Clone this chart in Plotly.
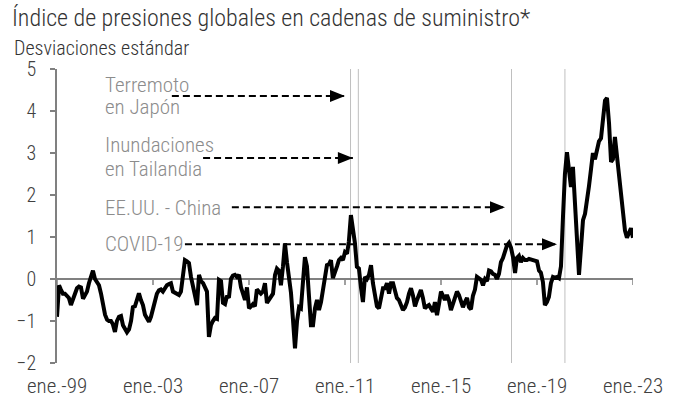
import pandas as pd
import plotly.graph_objects as go

# ---- data (monthly, Jan 1999 - Jan 2023) ----
v1999 = [-0.90, -0.15, -0.25, -0.35, -0.35, -0.40, -0.45, -0.62, -0.50, -0.35, -0.22, -0.18]
v2000 = [-0.20, -0.47, -0.38, -0.30, -0.10, 0.10, 0.20, 0.00, -0.10, -0.15, -0.35, -0.62]
v2001 = [-0.85, -0.97, -1.00, -1.00, -1.08, -1.26, -1.00, -0.90, -0.88, -1.10, -1.20, -1.27]
v2002 = [-1.20, -1.00, -0.67, -0.65, -0.50, -0.34, -0.50, -0.62, -0.85, -0.95, -1.02, -0.90]
v2003 = [-0.70, -0.50, -0.35, -0.27, -0.25, -0.30, -0.20, -0.15, -0.12, -0.10, -0.30, -0.32]
v2004 = [-0.35, -0.38, -0.30, 0.10, 0.45, 0.42, 0.38, 0.05, -0.20, -0.40, -0.62, 0.10]
v2005 = [-0.05, -0.10, -0.20, -0.30, -1.38, -1.10, -1.00, -0.93, -0.95, -0.02, -0.05, -0.57]
v2006 = [-0.60, -0.40, -0.45, 0.00, 0.08, 0.10, 0.05, 0.10, -0.20, -0.35, -0.50, -0.20]
v2007 = [-0.70, -0.65, -0.60, -0.65, -0.25, -0.30, -0.35, -0.30, -0.10, -0.57, -0.50, -0.42]
v2008 = [-0.35, 0.10, 0.25, 0.20, -0.15, 0.30, 0.85, 0.40, 0.00, -0.33, -0.98, -1.65]
v2009 = [-1.00, -0.67, -0.70, 0.00, 0.52, 0.30, -0.62, -1.10, -1.10, -0.70, -0.50, -0.74]
v2010 = [-0.55, -0.20, 0.10, 0.33, 0.35, 0.45, 0.02, 0.20, 0.30, 0.45, 0.50, 0.45]
v2011 = [0.64, 0.60, 0.90, 1.52, 1.20, 0.86, 0.29, 0.25, -0.20, -0.55, 0.05, 0.00]
v2012 = [0.10, 0.33, -0.10, -0.40, -0.65, -0.70, -0.50, -0.22, -0.22, -0.10, -0.35, -0.10]
v2013 = [-0.10, -0.25, -0.45, -0.50, -0.60, -0.74, -0.68, -0.55, -0.35, -0.22, -0.40, -0.65]
v2014 = [-0.50, -0.35, -0.26, -0.45, -0.70, -0.65, -0.62, -0.70, -0.78, -0.55, -0.86, -0.60]
v2015 = [-0.30, -0.40, -0.50, -0.38, -0.50, -0.74, -0.60, -0.45, -0.30, -0.38, -0.50, -0.67]
v2016 = [-0.55, -0.45, -0.67, -0.72, -0.40, -0.25, 0.05, 0.00, -0.02, -0.15, 0.00, -0.05]
v2017 = [0.20, 0.18, 0.12, 0.10, 0.00, 0.12, 0.40, 0.50, 0.69, 0.80, 0.86, 0.75]
v2018 = [0.52, 0.14, 0.50, 0.55, 0.40, 0.50, 0.45, 0.45, 0.48, 0.47, 0.45, 0.45]
v2019 = [0.42, 0.20, 0.15, -0.07, -0.62, -0.55, -0.43, -0.10, 0.05, 0.03, 0.05, 0.02]
v2020 = [0.30, 1.50, 2.50, 3.02, 2.67, 2.19, 2.67, 1.71, 0.86, 0.10, 0.75, 1.40]
v2021 = [1.55, 1.85, 2.20, 2.60, 3.00, 2.85, 3.10, 3.28, 3.35, 3.80, 4.25, 4.31]
v2022 = [3.71, 2.79, 2.85, 3.38, 2.90, 2.43, 2.10, 1.60, 1.15, 0.98, 1.10, 1.21]
v2023 = [0.98]

values = (v1999 + v2000 + v2001 + v2002 + v2003 + v2004 + v2005 + v2006 + v2007 + v2008
          + v2009 + v2010 + v2011 + v2012 + v2013 + v2014 + v2015 + v2016 + v2017 + v2018
          + v2019 + v2020 + v2021 + v2022 + v2023)
dates = pd.date_range("1999-01-01", periods=len(values), freq="MS")

tick_dates = ["1999-01-01", "2003-01-01", "2007-01-01", "2011-01-01",
              "2015-01-01", "2019-01-01", "2023-01-01"]
tick_labels = ["ene.-99", "ene.-03", "ene.-07", "ene.-11", "ene.-15", "ene.-19", "ene.-23"]

event_lines = ["2011-03-26", "2011-07-23", "2017-12-09", "2020-03-01"]
arrows = [  # (start, tip, y)
    ("2003-10-15", "2011-01-01", 4.36),
    ("2005-02-01", "2011-05-01", 2.88),
    ("2006-04-15", "2017-09-01", 1.71),
    ("2004-05-01", "2019-11-01", 0.83),
]
labels = [  # (text, y)
    ("Terremoto", 4.61), ("en Japón", 4.09),
    ("Inundaciones", 3.19), ("en Tailandia", 2.62),
    ("EE.UU. - China", 1.69), ("COVID-19", 0.83),
]

FONT = "Roboto Condensed, DejaVu Sans Condensed, Liberation Sans Narrow, Liberation Sans, sans-serif"
AXC = "#808080"

fig = go.Figure()
fig.add_trace(go.Scatter(x=dates, y=values, mode="lines",
                         line=dict(color="black", width=4),
                         showlegend=False, hoverinfo="skip"))

shapes = []
for d in event_lines:
    shapes.append(dict(type="line", xref="x", yref="paper", x0=d, x1=d, y0=0, y1=1,
                       line=dict(color="#bfbfbf", width=1), layer="below"))
for s, t, y in arrows:
    shapes.append(dict(type="line", xref="x", yref="y", x0=s, x1=t, y0=y, y1=y,
                       line=dict(color="black", width=2, dash="7px,4px")))
    shapes.append(dict(type="path", xref="x", yref="y", xsizemode="pixel", ysizemode="pixel",
                       xanchor=t, yanchor=y, path="M0,0 L-15,6 L-15,-6 Z",
                       fillcolor="black", line=dict(color="black", width=0)))
for d in tick_dates:
    shapes.append(dict(type="line", xref="x", yref="y", x0=d, x1=d,
                       ysizemode="pixel", yanchor=0, y0=0, y1=-6,
                       line=dict(color=AXC, width=1.5)))

annotations = []
for txt, y in labels:
    annotations.append(dict(text=txt, xref="paper", yref="y", x=46 / 576, y=y,
                            xanchor="left", yanchor="middle", showarrow=False,
                            font=dict(family=FONT, size=21, weight=300, color="#8c8c8c")))
annotations.append(dict(text="Desviaciones estándar", xref="paper", yref="paper",
                        x=-45 / 576, y=1 + 21 / 294, xanchor="left", yanchor="middle",
                        showarrow=False,
                        font=dict(family=FONT, size=20, weight=300, color="#333333")))

fig.update_layout(
    width=675, height=402,
    margin=dict(l=57, r=42, t=69, b=39, autoexpand=False),
    paper_bgcolor="white", plot_bgcolor="white",
    title=dict(text="Índice de presiones globales en cadenas de suministro*",
               x=12 / 675, xref="container", xanchor="left",
               y=1 - 18 / 402, yref="container", yanchor="middle",
               font=dict(family=FONT, size=24, weight=300, color="#333333")),
    shapes=shapes, annotations=annotations,
    xaxis=dict(range=["1999-01-01", "2023-01-01"], tickvals=tick_dates, ticktext=tick_labels,
               showgrid=False, zeroline=False, showline=False, ticks="",
               automargin=False, ticklabelstandoff=8,
               tickfont=dict(family=FONT, size=21, weight=300, color="#404040")),
    yaxis=dict(range=[-2, 5], dtick=1, tick0=0, showgrid=False,
               zeroline=True, zerolinecolor=AXC, zerolinewidth=1.5,
               showline=True, linecolor=AXC, linewidth=1.5,
               ticks="outside", ticklen=5, tickcolor=AXC, tickwidth=1.5,
               automargin=False, ticklabelstandoff=10,
               tickfont=dict(family=FONT, size=20, weight=300, color="#404040")),
)

# remove the browser's default 8px body margin so the figure sits at the page origin
fig.write_html("out.html", config={"displayModeBar": False},
               post_script="document.body.style.margin='0px';")
